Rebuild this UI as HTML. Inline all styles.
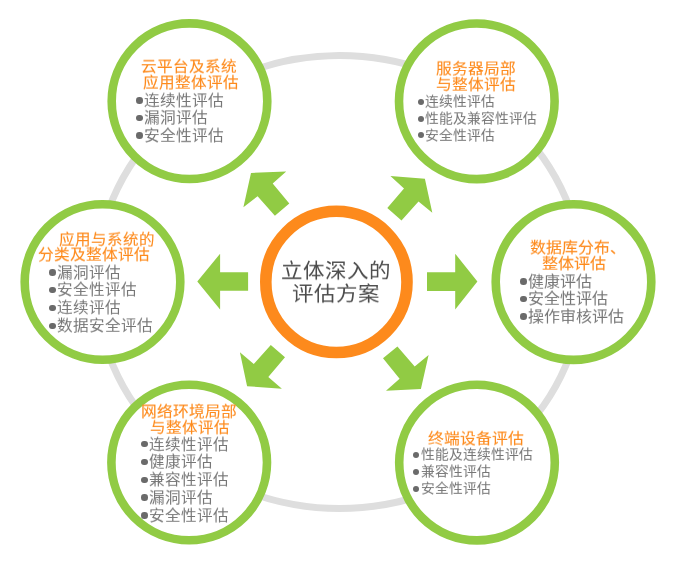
<!DOCTYPE html>
<html lang="zh-CN">
<head>
<meta charset="utf-8">
<style>
html,body{margin:0;padding:0;background:#fff;}
body{width:676px;height:567px;position:relative;overflow:hidden;font-family:"Liberation Sans",sans-serif;}
svg{position:absolute;left:0;top:0;}
.t{position:absolute;white-space:nowrap;color:#fd8a1c;font-weight:500;line-height:1;will-change:transform;-webkit-text-stroke:0.12px #fd8a1c;transform:scaleY(0.93);transform-origin:50% 50%;}
.b{position:absolute;white-space:nowrap;color:#767676;line-height:1;will-change:transform;transform:scaleY(0.95);transform-origin:50% 50%;}
.d{position:absolute;width:6.5px;height:6.5px;border-radius:50%;background:#6a6a6a;}
.c{position:absolute;white-space:nowrap;color:#4c4c4c;line-height:1;font-size:21.5px;will-change:transform;transform:scaleY(0.91);transform-origin:50% 50%;font-weight:500;}
</style>
</head>
<body>
<svg width="676" height="567" viewBox="0 0 676 567">
  <ellipse cx="339.4" cy="282" rx="243.6" ry="226.5" fill="none" stroke="#dedede" stroke-width="7"/>
  <g fill="#fff" stroke="#91cb44" stroke-width="8.6">
    <circle cx="189.5" cy="101.2" r="77.8"/>
    <circle cx="476.8" cy="101.3" r="77.8"/>
    <circle cx="102.5" cy="282" r="77.8"/>
    <circle cx="573.5" cy="282.1" r="77.8"/>
    <circle cx="189.2" cy="462.5" r="77.8"/>
    <circle cx="477" cy="462.6" r="77.8"/>
  </g>
  <circle cx="336.4" cy="281.9" r="70.6" fill="#fff" stroke="#fd8a1c" stroke-width="11.6"/>
  <g fill="#91cb44">
    <!-- left -->
    <polygon points="197.3,281.5 220.1,253.7 220.1,272.2 248.1,272.2 248.1,290.8 220.1,290.8 220.1,309.4"/>
    <!-- right -->
    <polygon points="477.4,281.6 455.2,253.7 455.2,272.2 427,272.2 427,291.1 455.2,291.1 455.2,309.6"/>
    <!-- up-left -->
    <polygon points="251,173 286.2,171.4 272.7,183.5 289.3,203.5 274.9,215.8 257.6,196.2 243.4,207.3"/>
    <!-- up-right -->
    <polygon points="424.9,178.8 432.3,212.8 418.5,201.4 401.5,220.5 387.3,207.9 404,188.6 390.4,176"/>
    <!-- down-left -->
    <polygon points="247.1,386.2 239.9,352.3 253.8,364 270.8,344.9 285,357.2 268.3,377 281.9,388.7"/>
    <!-- down-right -->
    <polygon points="420.9,389.1 386,390.8 399.6,378.8 383,358.2 397.4,346.5 414.7,366.5 428.6,355"/>
  </g>
</svg>

<!-- circle 1 -->
<div class="t" style="left:141px;top:59.0px;font-size:15.6px">云平台及系统</div>
<div class="t" style="left:142.5px;top:75.0px;font-size:15.6px">应用整体评估</div>
<div class="d" style="left:136.1px;top:97.2px"></div>
<div class="b" style="left:143.5px;top:93.1px;font-size:15.7px">连续性评估</div>
<div class="d" style="left:136.1px;top:114.6px"></div>
<div class="b" style="left:143.5px;top:110.4px;font-size:15.7px">漏洞评估</div>
<div class="d" style="left:136.1px;top:132.1px"></div>
<div class="b" style="left:143.5px;top:127.7px;font-size:15.7px">安全性评估</div>

<!-- circle 2 -->
<div class="t" style="left:435.5px;top:61.0px;font-size:15.7px">服务器局部</div>
<div class="t" style="left:436.0px;top:76.5px;font-size:15.7px">与整体评估</div>
<div class="d" style="left:418.3px;top:99.0px;width:6px;height:6px"></div>
<div class="b" style="left:424.7px;top:94.7px;font-size:13.8px">连续性评估</div>
<div class="d" style="left:418.3px;top:115.5px;width:6px;height:6px"></div>
<div class="b" style="left:424.7px;top:112.0px;font-size:13.8px">性能及兼容性评估</div>
<div class="d" style="left:418.3px;top:132.4px;width:6px;height:6px"></div>
<div class="b" style="left:424.7px;top:129.1px;font-size:13.8px">安全性评估</div>

<!-- circle 3 -->
<div class="t" style="left:59.0px;top:231.6px;font-size:15.5px">应用与系统的</div>
<div class="t" style="left:37.5px;top:246.6px;font-size:15.7px">分类及整体评估</div>
<div class="d" style="left:49.2px;top:269.0px"></div>
<div class="b" style="left:56.8px;top:264.8px;font-size:15.6px">漏洞评估</div>
<div class="d" style="left:49.2px;top:286.9px"></div>
<div class="b" style="left:56.8px;top:282.4px;font-size:15.6px">安全性评估</div>
<div class="d" style="left:49.2px;top:304.8px"></div>
<div class="b" style="left:56.8px;top:300.0px;font-size:15.6px">连续评估</div>
<div class="d" style="left:49.2px;top:322.7px"></div>
<div class="b" style="left:56.8px;top:317.6px;font-size:15.6px">数据安全评估</div>

<!-- circle 4 -->
<div class="t" style="left:529.5px;top:240.3px;font-size:15.9px">数据库分布、</div>
<div class="t" style="left:541.5px;top:255.5px;font-size:16px">整体评估</div>
<div class="d" style="left:520.0px;top:278.4px"></div>
<div class="b" style="left:528.3px;top:273.9px;font-size:16px">健康评估</div>
<div class="d" style="left:520.0px;top:295.8px"></div>
<div class="b" style="left:528.3px;top:291.3px;font-size:16px">安全性评估</div>
<div class="d" style="left:520.0px;top:313.2px"></div>
<div class="b" style="left:528.3px;top:308.7px;font-size:16px">操作审核评估</div>

<!-- circle 5 -->
<div class="t" style="left:140.7px;top:404.3px;font-size:15.7px">网络环境局部</div>
<div class="t" style="left:149.7px;top:419.8px;font-size:15.5px">与整体评估</div>
<div class="d" style="left:141.4px;top:440.9px"></div>
<div class="b" style="left:149.3px;top:436.6px;font-size:15.6px">连续性评估</div>
<div class="d" style="left:141.4px;top:458.7px"></div>
<div class="b" style="left:149.3px;top:454.4px;font-size:15.6px">健康评估</div>
<div class="d" style="left:141.4px;top:476.6px"></div>
<div class="b" style="left:149.3px;top:472.3px;font-size:15.6px">兼容性评估</div>
<div class="d" style="left:141.4px;top:494.4px"></div>
<div class="b" style="left:149.3px;top:490.1px;font-size:15.6px">漏洞评估</div>
<div class="d" style="left:141.4px;top:512.2px"></div>
<div class="b" style="left:149.3px;top:507.9px;font-size:15.6px">安全性评估</div>

<!-- circle 6 -->
<div class="t" style="left:428.2px;top:431.2px;font-size:15.8px">终端设备评估</div>
<div class="d" style="left:412.9px;top:451.7px;width:6px;height:6px"></div>
<div class="b" style="left:420.9px;top:448.1px;font-size:13.8px">性能及连续性评估</div>
<div class="d" style="left:412.9px;top:468.7px;width:6px;height:6px"></div>
<div class="b" style="left:420.9px;top:465.2px;font-size:13.8px">兼容性评估</div>
<div class="d" style="left:412.9px;top:485.8px;width:6px;height:6px"></div>
<div class="b" style="left:420.9px;top:481.8px;font-size:13.8px">安全性评估</div>

<!-- center -->
<div class="c" style="left:281px;top:261.1px">立体深入的</div>
<div class="c" style="left:291.5px;top:284.2px">评估方案</div>
</body>
</html>
